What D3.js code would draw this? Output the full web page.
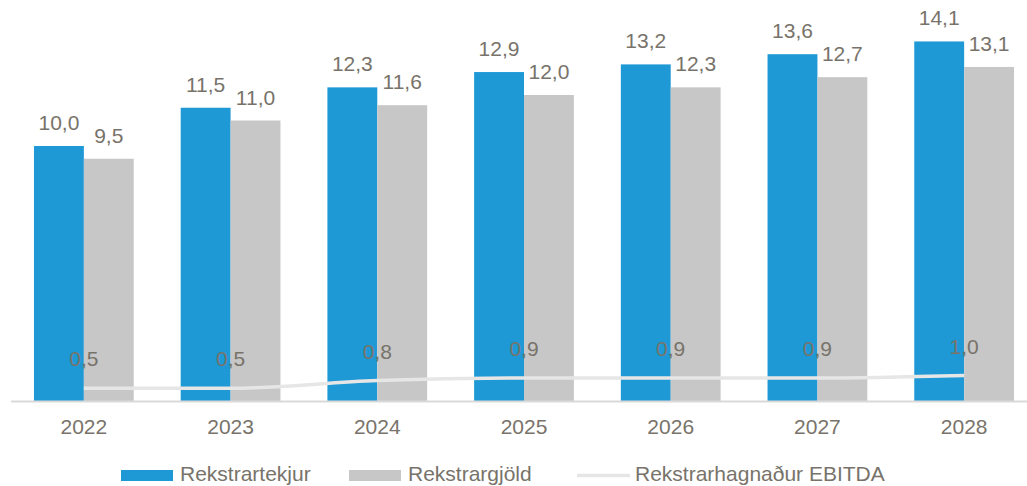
<!DOCTYPE html>
<html>
<head>
<meta charset="utf-8">
<script src="https://cdn.jsdelivr.net/npm/d3@7"></script>
<style>
  html, body { margin: 0; padding: 0; background: #fff; }
  svg { display: block; font-family: "Liberation Sans", Arial, sans-serif; }
</style>
</head>
<body>
<svg id="chart" width="1027" height="486"></svg>
<script>
var years = ["2022", "2023", "2024", "2025", "2026", "2027", "2028"];
var rekstrartekjur = [10.0, 11.5, 12.3, 12.9, 13.2, 13.6, 14.1];
var rekstrargjold = [9.5, 11.0, 11.6, 12.0, 12.3, 12.7, 13.1];
var ebitda = [0.5, 0.5, 0.8, 0.9, 0.9, 0.9, 1.0];
var seriesNames = ["Rekstrartekjur", "Rekstrargjöld", "Rekstrarhagnaður EBITDA"];

var colors = ["#1e99d6", "#c7c7c7", "#e6e6e6"];
var textColor = "#78736a";
var fmt = function(v){ return v.toFixed(1).replace(".", ","); };

var svg = d3.select("#chart");
var baseY = 401;

var x0 = d3.scaleBand()
	.domain(years)
	.range([10.5, 1037.5])
	.paddingInner(0.32)
	.paddingOuter(0.16);

var x1 = d3.scaleBand()
	.domain([0, 1])
	.range([0, x0.bandwidth()]);

var y = d3.scaleLinear()
	.domain([0, 14.1])
	.range([baseY, baseY - 14.1 * 25.5]);

var barData = [rekstrartekjur, rekstrargjold];

// bars
var groups = svg.selectAll("g.year")
	.data(years)
	.enter()
	.append("g")
	.attr("class", "year")
	.attr("transform", function(d){ return "translate(" + x0(d) + ",0)"; });

groups.selectAll("rect")
	.data(function(d, i){ return barData.map(function(s, k){ return {k: k, v: s[i]}; }); })
	.enter()
	.append("rect")
	.attr("x", function(d){ return x1(d.k); })
	.attr("width", x1.bandwidth())
	.attr("y", function(d){ return y(d.v); })
	.attr("height", function(d){ return baseY - y(d.v); })
	.attr("fill", function(d){ return colors[d.k]; });

groups.selectAll("text.val")
	.data(function(d, i){ return barData.map(function(s, k){ return {k: k, v: s[i]}; }); })
	.enter()
	.append("text")
	.attr("class", "val")
	.attr("x", function(d){ return x1(d.k) + x1.bandwidth() / 2; })
	.attr("y", function(d){ return y(d.v) - 16; })
	.attr("text-anchor", "middle")
	.attr("font-size", 21)
	.attr("fill", textColor)
	.text(function(d){ return fmt(d.v); });

// x axis
var axis = svg.append("g")
	.attr("transform", "translate(0," + baseY + ")")
	.call(d3.axisBottom(x0).tickSize(0).tickPadding(18));

axis.select(".domain").attr("stroke", "#d9d9d9").attr("stroke-width", 2);
axis.selectAll("text")
	.attr("font-size", 21)
	.attr("font-family", "Liberation Sans, Arial, sans-serif")
	.attr("fill", textColor);

// EBITDA line
var cx = function(d, i){ return x0(years[i]) + x0.bandwidth() / 2; };

var line = d3.line()
	.x(cx)
	.y(function(d){ return y(d); })
	.curve(d3.curveMonotoneX);

svg.append("path")
	.datum(ebitda)
	.attr("d", line)
	.attr("fill", "none")
	.attr("stroke", colors[2])
	.attr("stroke-width", 3.5);

svg.selectAll("text.ebitda")
	.data(ebitda)
	.enter()
	.append("text")
	.attr("class", "ebitda")
	.attr("x", cx)
	.attr("y", function(d){ return y(d) - 22; })
	.attr("text-anchor", "middle")
	.attr("font-size", 21)
	.attr("fill", textColor)
	.text(fmt);

// legend
var legendX = [121, 349, 577];
var legend = svg.selectAll("g.legend")
	.data(seriesNames)
	.enter()
	.append("g")
	.attr("class", "legend")
	.attr("transform", function(d, i){ return "translate(" + legendX[i] + ",0)"; });

legend.each(function(d, i){
	var g = d3.select(this);
	if (i < 2) {
		g.append("rect")
			.attr("x", 0).attr("y", 470)
			.attr("width", 52).attr("height", 11)
			.attr("fill", colors[i]);
	} else {
		g.append("line")
			.attr("x1", 0).attr("x2", 53)
			.attr("y1", 475.5).attr("y2", 475.5)
			.attr("stroke", colors[2])
			.attr("stroke-width", 3.5);
	}
	g.append("text")
		.attr("x", i < 2 ? 59 : 58)
		.attr("y", 481)
		.attr("font-size", 21)
		.attr("fill", textColor)
		.text(d);
});
</script>
</body>
</html>
